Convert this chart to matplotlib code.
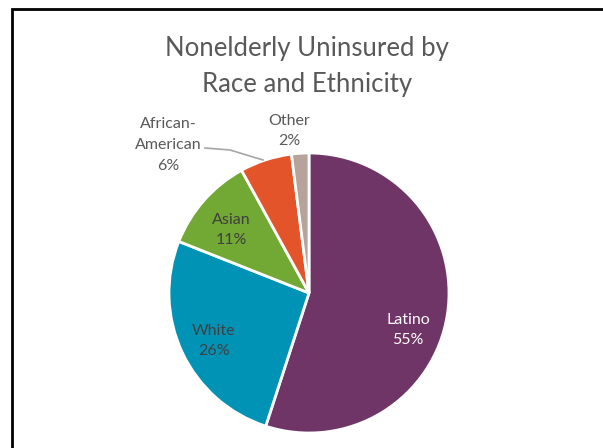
import matplotlib
matplotlib.use("Agg")
from matplotlib import pyplot as plt

# dados do grafico
groups = ["Latino", "White", "Asian", "African-\nAmerican", "Other"]
shares = [55, 26, 11, 6, 2]
colors = ["#6F3566", "#0093B6", "#72A834", "#E4542A", "#B7A39C"]
textColors = ["white", "#404040", "#404040", "#595959", "#595959"]

# posicoes dos rotulos (pixels, origem embaixo)
labelPos = [(408, 118), (214, 107), (231, 218), (168, 303), (289, 317)]

plt.rcParams['font.family'] = ['Lato', 'DejaVu Sans']

fig = plt.figure(figsize=(6.03, 4.48), dpi=100)
ax = fig.add_axes([0, 0, 1, 1])

wedges, _ = ax.pie(shares, colors=colors, startangle=90, counterclock=False,
                   center=(309, 155), radius=140, frame=True,
                   wedgeprops=dict(edgecolor="white", linewidth=2))
ax.set_xlim(0, 603)
ax.set_ylim(0, 448)
ax.set_aspect('equal')
ax.axis('off')

for i in range(0, len(groups)):
	ax.text(labelPos[i][0], labelPos[i][1], groups[i] + "\n" + str(shares[i]) + "%",
	        ha="center", va="center", color=textColors[i], fontsize=11.5,
	        linespacing=1.6)

# linha guia do African-American
ax.plot([205, 230, 263], [300, 298, 288], color="#A6A6A6", linewidth=1.2)

ax.text(307, 382, "Nonelderly Uninsured by\nRace and Ethnicity", ha="center",
        va="center", color="#595959", fontsize=18.5, linespacing=1.55)

# moldura (so esquerda e topo aparecem)
ax.plot([12, 12, 620], [-10, 439, 439], color="black", linewidth=2,
        solid_joinstyle="miter", clip_on=False)

plt.savefig("out.png", dpi=100)
